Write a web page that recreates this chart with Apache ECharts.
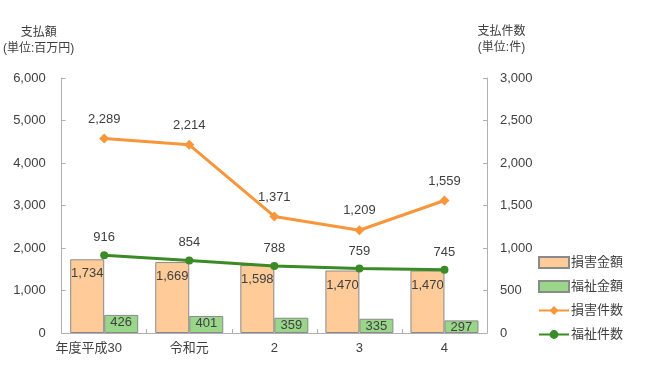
<!DOCTYPE html>
<html><head><meta charset="utf-8">
<script src="https://cdn.jsdelivr.net/npm/echarts@6/dist/echarts.min.js"></script>
<style>html,body{margin:0;padding:0;background:#fff}#c{width:650px;height:368px}</style>
</head><body><div id="c"></div>
<script>
const categories = ['年度平成30', '令和元', '2', '3', '4'];
const songaiKingaku = [1734, 1669, 1598, 1470, 1470];
const fukushiKingaku = [426, 401, 359, 335, 297];
const songaiKensu = [2289, 2214, 1371, 1209, 1559];
const fukushiKensu = [916, 854, 788, 759, 745];
const leftTicks = [0, 6000, 1000];
const rightTicks = [0, 3000, 500];

const FONT = '"Liberation Sans", Arial, "Noto Sans CJK JP", sans-serif';
const TXT = '#404040';
const fmt = v => Number(v).toLocaleString('en-US');

const chart = echarts.init(document.getElementById('c'));
chart.setOption({
  animation: false,
  textStyle: { fontFamily: FONT },
  grid: { left: 61, right: 163, top: 78, bottom: 35 },
  legend: {
    orient: 'vertical', left: 533, top: 251, itemGap: 11, itemWidth: 30, itemHeight: 11,
    textStyle: { fontSize: 13, color: TXT, fontFamily: FONT, padding: [0, 0, 0, -3] },
    data: [
      { name: '損害金額', icon: 'rect' },
      { name: '福祉金額', icon: 'rect' },
      { name: '損害件数' },
      { name: '福祉件数' }
    ]
  },
  xAxis: {
    type: 'category',
    data: categories.map((c, i) => i === 0 ? { value: c, textStyle: { padding: [0, 31, 0, 0] } } : c),
    axisLine: { lineStyle: { color: '#b0b0b0' } },
    axisTick: { show: true, inside: true, length: 4, lineStyle: { color: '#b0b0b0' } },
    axisLabel: { interval: 0, fontSize: 13, color: TXT, margin: 9, fontFamily: FONT }
  },
  yAxis: [
    {
      type: 'value', min: leftTicks[0], max: leftTicks[1], interval: leftTicks[2],
      name: '支払額\n(単位:百万円)', nameLocation: 'end', nameGap: 0,
      nameTextStyle: { fontSize: 12, color: TXT, align: 'center', verticalAlign: 'bottom', padding: [0, 0, 15, -46], lineHeight: 16, fontFamily: FONT },
      axisLine: { show: true, lineStyle: { color: '#b0b0b0' } },
      axisTick: { show: true, inside: true, length: 4, lineStyle: { color: '#b0b0b0' } },
      splitLine: { show: false },
      axisLabel: { fontSize: 13, color: TXT, margin: 16, formatter: fmt, fontFamily: FONT }
    },
    {
      type: 'value', min: rightTicks[0], max: rightTicks[1], interval: rightTicks[2],
      name: '支払件数\n(単位:件)', nameLocation: 'end', nameGap: 0,
      nameTextStyle: { fontSize: 12, color: TXT, align: 'center', verticalAlign: 'bottom', padding: [0, 0, 16, 29], lineHeight: 16, fontFamily: FONT },
      axisLine: { show: true, lineStyle: { color: '#b0b0b0' } },
      axisTick: { show: true, inside: true, length: 4, lineStyle: { color: '#b0b0b0' } },
      splitLine: { show: false },
      axisLabel: { fontSize: 13, color: TXT, margin: 13, formatter: fmt, fontFamily: FONT }
    }
  ],
  series: [
    {
      name: '損害金額', type: 'bar', yAxisIndex: 0, data: songaiKingaku,
      barWidth: 34, barGap: '0%',
      itemStyle: { color: '#FFCC99', borderColor: '#8a8a8a', borderWidth: 1 },
      label: { show: true, position: 'insideTop', distance: 8, fontSize: 13, color: TXT, formatter: p => fmt(p.value), fontFamily: FONT }
    },
    {
      name: '福祉金額', type: 'bar', yAxisIndex: 0, data: fukushiKingaku,
      barWidth: 34, barGap: '0%',
      itemStyle: { color: '#99D68A', borderColor: '#8a8a8a', borderWidth: 1 },
      label: { show: true, position: 'insideTop', distance: 1, fontSize: 13, color: TXT, formatter: p => fmt(p.value), fontFamily: FONT }
    },
    {
      name: '損害件数', type: 'line', yAxisIndex: 1, data: songaiKensu,
      symbol: 'diamond', symbolSize: 10,
      lineStyle: { color: '#F7963A', width: 3 },
      itemStyle: { color: '#F7963A' },
      label: { show: true, position: 'top', distance: 8, fontSize: 13, color: TXT, formatter: p => fmt(p.value), fontFamily: FONT }
    },
    {
      name: '福祉件数', type: 'line', yAxisIndex: 1, data: fukushiKensu,
      symbol: 'circle', symbolSize: 8,
      lineStyle: { color: '#3A8A26', width: 3 },
      itemStyle: { color: '#3A8A26' },
      label: { show: true, position: 'top', distance: 7, fontSize: 13, color: TXT, formatter: p => fmt(p.value), fontFamily: FONT }
    }
  ]
});
</script></body></html>
